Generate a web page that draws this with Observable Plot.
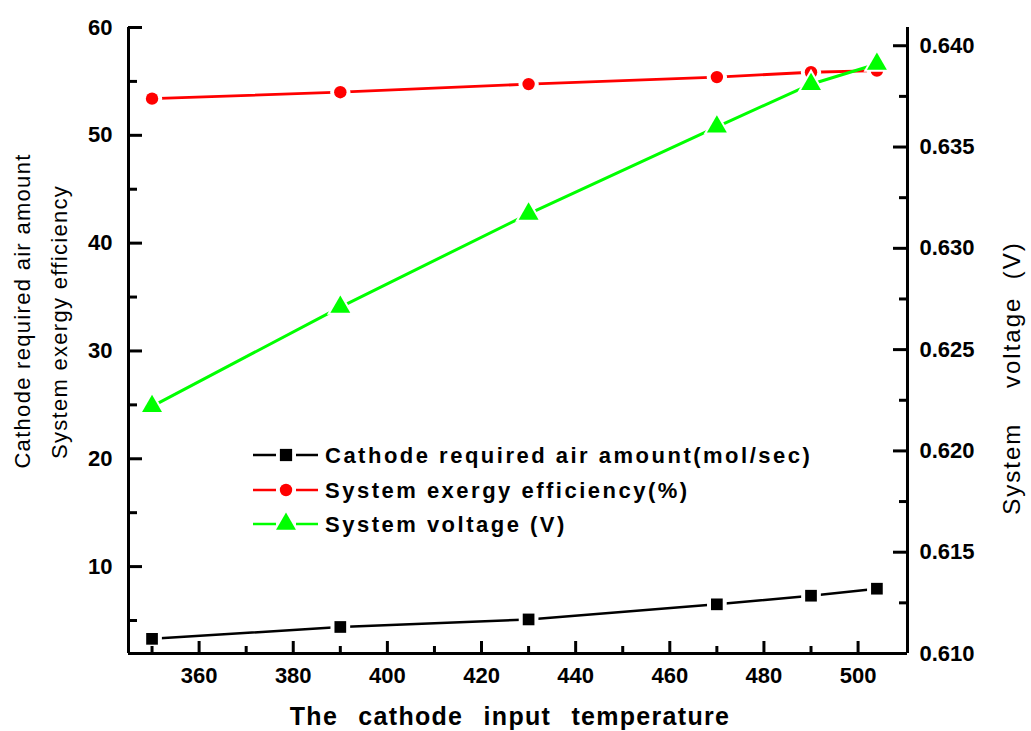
<!DOCTYPE html>
<html>
<head>
<meta charset="utf-8">
<script src="https://cdn.jsdelivr.net/npm/d3@7"></script>
<script src="https://cdn.jsdelivr.net/npm/@observablehq/plot@0.6"></script>
<style>
  html, body { margin: 0; padding: 0; background: #fff; }
  #chart { width: 1031px; height: 731px; }
  text { font-family: "Liberation Sans", Arial, sans-serif; }
</style>
</head>
<body>
<div id="chart"></div>
<script>
// ---- data ----
const temps = [350, 390, 430, 470, 490, 504];
const airAmount = [3.3, 4.4, 5.1, 6.5, 7.3, 7.95];          // mol/sec (left axis)
const exergyEff = [53.4, 54.0, 54.75, 55.4, 55.85, 56.0];   // % (left axis)
const voltage = [0.6222, 0.6271, 0.6317, 0.6360, 0.6381, 0.6391]; // V (right axis)

const xTicks = [360, 380, 400, 420, 440, 460, 480, 500];
const xMinor = [350, 370, 390, 410, 430, 450, 470, 490];
const yTicks = [10, 20, 30, 40, 50, 60];
const yMinor = [5, 15, 25, 35, 45, 55];
const vTicks = [0.610, 0.615, 0.620, 0.625, 0.630, 0.635, 0.640];
const vMinor = [0.6125, 0.6175, 0.6225, 0.6275, 0.6325, 0.6375];

const seriesNames = [
  "Cathode required air amount(mol/sec)",
  "System exergy efficiency(%)",
  "System voltage (V)"
];
const seriesColors = ["#000000", "#ff0000", "#00ff00"];
const seriesSymbols = ["square", "circle", "triangle"];

const xDomain = [345, 510.5];
const yDomain = [1.94, 60];
const vDomain = [0.610, 0.6409];

// map voltage onto the left scale's units (dual axis)
const toLeft = v => yDomain[0] + (v - vDomain[0]) / (vDomain[1] - vDomain[0]) * (yDomain[1] - yDomain[0]);
const fromLeft = y => vDomain[0] + (y - yDomain[0]) / (yDomain[1] - yDomain[0]) * (vDomain[1] - vDomain[0]);

const rows = temps.map((t, i) => ({t, air: airAmount[i], eff: exergyEff[i], v: voltage[i]}));

const W = 1031, H = 731, ML = 128, MR = 124, MT = 27, MB = 78;
const FW = W - ML - MR, FH = H - MT - MB;
const font = "Liberation Sans, Arial, sans-serif";

function seriesMarks(yAcc, color, symbol, r, sw, halo) {
  return [
    Plot.line(rows, {x: "t", y: yAcc, stroke: color, strokeWidth: sw}),
    Plot.dot(rows, {x: "t", y: yAcc, symbol: symbol, r: r, fill: color, stroke: "white", strokeWidth: halo, paintOrder: "stroke"})
  ];
}
const tk = {stroke: "black", strokeWidth: 3};

const plot = Plot.plot({
  width: W,
  height: H,
  marginLeft: ML,
  marginRight: MR,
  marginTop: MT,
  marginBottom: MB,
  style: {fontFamily: font, background: "white", overflow: "visible"},
  x: {domain: xDomain},
  y: {domain: yDomain},
  marks: [
    ...seriesMarks("air", seriesColors[0], "square", 6.6, 2.5, 8),
    ...seriesMarks("eff", seriesColors[1], "circle", 6.2, 2.8, 8),
    ...seriesMarks(d => toLeft(d.v), seriesColors[2], "triangle", 7.4, 3, 4),
    // frame: left, right, bottom
    Plot.ruleX(xDomain, tk),
    Plot.ruleY([yDomain[0]], tk),
    // inward ticks
    Plot.tickY(yTicks, {y: d => d, insetRight: FW - 14, ...tk}),
    Plot.tickY(yMinor, {y: d => d, insetRight: FW - 9, ...tk}),
    Plot.tickY(vTicks, {y: d => toLeft(d), insetLeft: FW - 14, ...tk}),
    Plot.tickY(vMinor, {y: d => toLeft(d), insetLeft: FW - 8, ...tk}),
    Plot.tickX(xTicks, {x: d => d, insetTop: FH - 12, ...tk}),
    Plot.tickX(xMinor, {x: d => d, insetTop: FH - 7, ...tk}),
    // tick labels
    Plot.axisY({ticks: yTicks, tickSize: 0, tickPadding: 16, label: null, fontSize: 22, fontWeight: "bold", tickFormat: d => String(d)}),
    Plot.axisY({anchor: "right", ticks: vTicks.map(toLeft), tickSize: 0, tickPadding: 12, label: null, fontSize: 22, fontWeight: "bold", tickFormat: d => fromLeft(d).toFixed(3)}),
    Plot.axisX({ticks: xTicks, tickSize: 0, tickPadding: 14, label: null, fontSize: 22, fontWeight: "bold", tickFormat: d => String(d)})
  ]
});

document.getElementById("chart").appendChild(plot);

// ---- titles and legend ----
const svg = d3.select(plot);
const g = svg.append("g").attr("font-family", font).attr("fill", "black");

g.append("text").attr("transform", "translate(30,311) rotate(-90)")
  .attr("text-anchor", "middle").attr("font-size", 22).attr("letter-spacing", "1.3px")
  .text("Cathode required air amount");
g.append("text").attr("transform", "translate(67,322) rotate(-90)")
  .attr("text-anchor", "middle").attr("font-size", 22).attr("letter-spacing", "1.3px")
  .text("System exergy efficiency");
g.append("text").attr("transform", "translate(1020,378) rotate(-90)")
  .attr("text-anchor", "middle").attr("font-size", 24).attr("letter-spacing", "2px")
  .style("white-space", "pre")
  .text("System    voltage  (V)");
g.append("text").attr("x", 510).attr("y", 725)
  .attr("text-anchor", "middle").attr("font-size", 25).attr("font-weight", "bold")
  .attr("letter-spacing", "1.3px").attr("word-spacing", "12px")
  .text("The cathode input temperature");

const legendRows = [455, 490, 524];
const legendSizes = [150, 121, 172];
seriesNames.forEach((name, i) => {
  const y = legendRows[i];
  const lg = g.append("g");
  lg.append("line").attr("x1", 253).attr("x2", 276).attr("y1", y).attr("y2", y)
    .attr("stroke", seriesColors[i]).attr("stroke-width", 2.5);
  lg.append("line").attr("x1", 296).attr("x2", 318).attr("y1", y).attr("y2", y)
    .attr("stroke", seriesColors[i]).attr("stroke-width", 2.5);
  const sym = {square: d3.symbolSquare, circle: d3.symbolCircle, triangle: d3.symbolTriangle}[seriesSymbols[i]];
  lg.append("path").attr("transform", `translate(286,${y})`)
    .attr("d", d3.symbol(sym, legendSizes[i])()).attr("fill", seriesColors[i]);
  lg.append("text").attr("x", 325).attr("y", y + 8).attr("text-anchor", "start")
    .attr("font-size", 22).attr("font-weight", "bold").attr("letter-spacing", "2.5px")
    .text(name);
});
</script>
</body>
</html>
